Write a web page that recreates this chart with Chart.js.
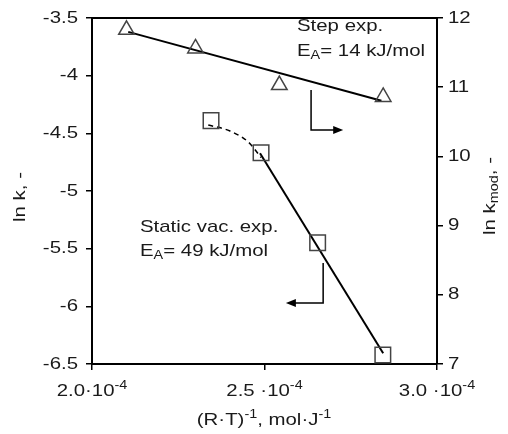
<!DOCTYPE html>
<html>
<head>
<meta charset="utf-8">
<script src="https://cdn.jsdelivr.net/npm/chart.js@4.4.0/dist/chart.umd.min.js"></script>
<style>
  html, body { margin: 0; padding: 0; background: #fff; }
  #wrap { width: 508px; height: 434px; }
</style>
</head>
<body>
<div id="wrap"><canvas id="chart"></canvas></div>
<script>
// step experiment (right axis, ln kmod)
const stepX = [2.10e-4, 2.30e-4, 2.543e-4, 2.844e-4];
const stepLnKmod = [11.83, 11.56, 11.03, 10.86];
const stepFitX = [2.105e-4, 2.839e-4];
const stepFitY = [11.80, 10.805];

// static vacuum experiment (left axis, ln k)
const vacX = [2.345e-4, 2.49e-4, 2.654e-4, 2.843e-4];
const vacLnK = [-4.39, -4.668, -5.448, -6.422];
const vacFitX = [2.487e-4, 2.844e-4];
const vacFitY = [-4.673, -6.407];
const vacCurveX = [2.337e-4, 2.40e-4, 2.453e-4, 2.49e-4];
const vacCurveY = [-4.428, -4.48, -4.575, -4.71];

// axes
const xTicks = [2.0e-4, 2.5e-4, 3.0e-4];
const xTickLabels = ['2.0·10', '2.5 ·10', '3.0 ·10'];
const leftTicks = [-3.5, -4, -4.5, -5, -5.5, -6, -6.5];
const rightTicks = [12, 11, 10, 9, 8, 7];

// arrows pointing to the axis each series belongs to
const stepArrowX = [2.635e-4, 2.635e-4, 2.728e-4];
const stepArrowY = [10.96, 10.38, 10.38];
const vacArrowX = [2.67e-4, 2.67e-4, 2.562e-4];
const vacArrowY = [-5.624, -5.971, -5.971];

const FONT = '"Liberation Sans", Arial, sans-serif';
const TEXT = '#1a1a1a';
const SX = 1.2;
const FS = 17;

function pts(xs, ys) {
  return xs.map((x, i) => ({ x: x, y: ys[i] }));
}

function richText(ctx, parts, x, y, align, size, rot) {
  ctx.save();
  ctx.translate(x, y);
  if (rot) ctx.rotate(rot);
  ctx.scale(SX, 1);
  ctx.fillStyle = TEXT;
  ctx.textBaseline = 'middle';
  ctx.textAlign = 'left';
  let w = 0;
  parts.forEach((p) => {
    ctx.font = (p[1] ? Math.round(size * 0.7) : size) + 'px ' + FONT;
    w += ctx.measureText(p[0]).width;
  });
  let cx = align === 'center' ? -w / 2 : align === 'right' ? -w : 0;
  parts.forEach((p) => {
    ctx.font = (p[1] ? Math.round(size * 0.7) : size) + 'px ' + FONT;
    const dy = p[1] === 'sup' ? -size * 0.33 : p[1] === 'sub' ? size * 0.3 : 0;
    ctx.fillText(p[0], cx, dy);
    cx += ctx.measureText(p[0]).width;
  });
  ctx.restore();
}

function arrow(ctx, xs, ys, xScale, yScale) {
  const px = xs.map((v) => xScale.getPixelForValue(v));
  const py = ys.map((v) => yScale.getPixelForValue(v));
  const n = px.length - 1;
  const dir = Math.sign(px[n] - px[n - 1]);
  ctx.save();
  ctx.strokeStyle = '#000';
  ctx.fillStyle = '#000';
  ctx.lineWidth = 1.5;
  ctx.beginPath();
  ctx.moveTo(px[0], py[0]);
  for (let i = 1; i < n; i++) ctx.lineTo(px[i], py[i]);
  ctx.lineTo(px[n] - dir * 8, py[n]);
  ctx.stroke();
  ctx.beginPath();
  ctx.moveTo(px[n], py[n]);
  ctx.lineTo(px[n] - dir * 10, py[n] - 4);
  ctx.lineTo(px[n] - dir * 10, py[n] + 4);
  ctx.closePath();
  ctx.fill();
  ctx.restore();
}

const decor = {
  id: 'decor',
  afterDraw(chart) {
    const ctx = chart.ctx;
    const a = chart.chartArea;
    const sx = chart.scales.x, sy = chart.scales.y, sy2 = chart.scales.y2;

    // top frame line
    ctx.save();
    ctx.strokeStyle = '#000';
    ctx.lineWidth = 2;
    ctx.beginPath();
    ctx.moveTo(a.left, a.top);
    ctx.lineTo(a.right, a.top);
    ctx.stroke();
    ctx.restore();

    leftTicks.forEach((v) => richText(ctx, [[String(v)]], 78, sy.getPixelForValue(v), 'right', FS));
    rightTicks.forEach((v) => richText(ctx, [[String(v)]], 448, sy2.getPixelForValue(v), 'left', FS));
    xTicks.forEach((v, i) =>
      richText(ctx, [[xTickLabels[i]], ['-4', 'sup']], sx.getPixelForValue(v), 391, 'center', FS));

    richText(ctx, [['(R·T)'], ['-1', 'sup'], [', mol·J'], ['-1', 'sup']], 264, 420, 'center', FS);
    richText(ctx, [['ln k, -']], 20, 197, 'center', FS, -Math.PI / 2);
    richText(ctx, [['ln k'], ['mod', 'sub'], [', -']], 490, 196, 'center', FS, -Math.PI / 2);

    richText(ctx, [['Step exp.']], 297, 26, 'left', FS);
    richText(ctx, [['E'], ['A', 'sub'], ['= 14 kJ/mol']], 297, 51, 'left', FS);
    richText(ctx, [['Static vac. exp.']], 140, 227, 'left', FS);
    richText(ctx, [['E'], ['A', 'sub'], ['= 49 kJ/mol']], 140, 251, 'left', FS);

    arrow(ctx, stepArrowX, stepArrowY, sx, sy2);
    arrow(ctx, vacArrowX, vacArrowY, sx, sy);
  },
};

const axisGrid = { display: true, drawOnChartArea: false, drawTicks: true, tickLength: 6, color: '#000', lineWidth: 1.5 };
const axisBorder = { display: true, color: '#000', width: 2 };

new Chart(document.getElementById('chart'), {
  type: 'scatter',
  data: {
    datasets: [
      {
        label: 'Step exp.',
        data: pts(stepX, stepLnKmod),
        yAxisID: 'y2',
        pointStyle: 'triangle',
        pointRadius: 9,
        borderColor: '#444',
        borderWidth: 1.5,
        backgroundColor: 'rgba(0,0,0,0)',
        showLine: false,
      },
      {
        label: 'Step fit',
        data: pts(stepFitX, stepFitY),
        yAxisID: 'y2',
        showLine: true,
        pointRadius: 0,
        borderColor: '#000',
        borderWidth: 2,
      },
      {
        label: 'Static vac. exp.',
        data: pts(vacX, vacLnK),
        yAxisID: 'y',
        pointStyle: 'rect',
        pointRadius: 11,
        borderColor: '#444',
        borderWidth: 1.5,
        backgroundColor: 'rgba(0,0,0,0)',
        showLine: false,
      },
      {
        label: 'Static fit',
        data: pts(vacFitX, vacFitY),
        yAxisID: 'y',
        showLine: true,
        pointRadius: 0,
        borderColor: '#000',
        borderWidth: 2,
      },
      {
        label: 'Static curve',
        data: pts(vacCurveX, vacCurveY),
        yAxisID: 'y',
        showLine: true,
        cubicInterpolationMode: 'monotone',
        pointRadius: 0,
        borderColor: '#000',
        borderWidth: 1.5,
        borderDash: [5, 4],
      },
    ],
  },
  options: {
    responsive: true,
    maintainAspectRatio: false,
    animation: false,
    events: [],
    layout: { padding: { top: 18, left: 0, right: 0, bottom: 0 } },
    plugins: { legend: { display: false }, tooltip: { enabled: false } },
    scales: {
      x: {
        type: 'linear',
        min: 2.0e-4,
        max: 3.0e-4,
        afterBuildTicks: (s) => { s.ticks = xTicks.map((v) => ({ value: v })); },
        afterFit: (s) => { s.height = 70; },
        ticks: { display: false },
        grid: axisGrid,
        border: axisBorder,
      },
      y: {
        position: 'left',
        min: -6.5,
        max: -3.5,
        afterBuildTicks: (s) => { s.ticks = leftTicks.map((v) => ({ value: v })); },
        afterFit: (s) => { s.width = 92; },
        ticks: { display: false },
        grid: axisGrid,
        border: axisBorder,
      },
      y2: {
        position: 'right',
        min: 7,
        max: 12,
        afterBuildTicks: (s) => { s.ticks = rightTicks.map((v) => ({ value: v })); },
        afterFit: (s) => { s.width = 71; },
        ticks: { display: false },
        grid: axisGrid,
        border: axisBorder,
      },
    },
  },
  plugins: [decor],
});
</script>
</body>
</html>
